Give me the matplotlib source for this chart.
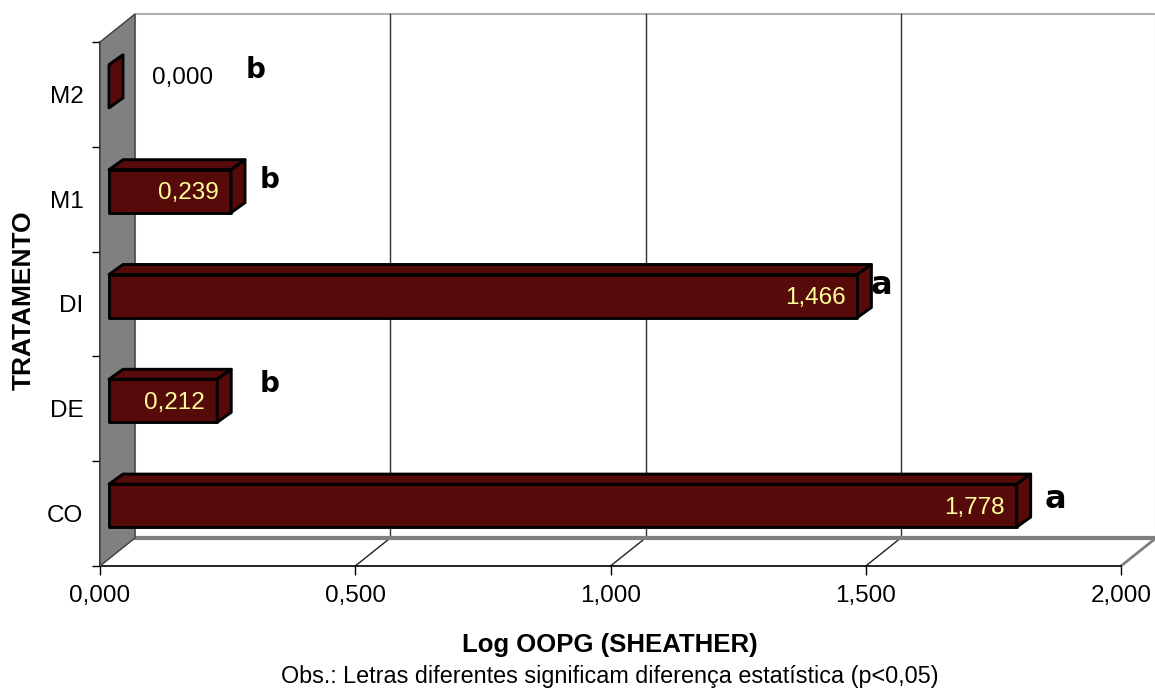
import matplotlib.pyplot as plt
from matplotlib.patches import Polygon

plt.rcParams['font.family'] = ['Liberation Sans', 'DejaVu Sans']

# dados
tratamentos = ['CO', 'DE', 'DI', 'M1', 'M2']
valores = [1.778, 0.212, 1.466, 0.239, 0.000]
letras = ['a', 'b', 'a', 'b', 'b']
# posicao das letras (x em Log OOPG, deslocamento y em relacao a categoria)
letras_x = [1.871, 0.333, 1.530, 0.333, 0.305]
letras_dy = [0.13, 0.24, 0.18, 0.18, 0.23]
xticks = [0.0, 0.5, 1.0, 1.5, 2.0]

cor_barra = '#560A0A'
cinza = '#808080'

# profundidade "3D" em unidades dos eixos
px_x = 1 / 510.5
px_y = 1 / 104.8
DX, DY = 35 * px_x, 28 * px_y          # parede
BX, BY = 9 * px_x, 8 * px_y            # frente da barra
BDX, BDY = 14 * px_x, 10 * px_y        # profundidade da barra
ALT = 43 * px_y                        # altura da barra

fig = plt.figure(figsize=(11.55, 6.91), dpi=100)
ax = fig.add_axes([100 / 1155, (691 - 566) / 691, 1021 / 1155, 524 / 691])
ax.set_xlim(0, 2)
ax.set_ylim(-0.5, 4.5)
ax.set_facecolor('none')
for s in ['top', 'right']:
    ax.spines[s].set_visible(False)
ax.spines['left'].set_linewidth(1.2)
ax.spines['bottom'].set_linewidth(1.2)

y0, y1 = -0.5, 4.5
# parede do fundo
ax.add_patch(Polygon([(DX, y0 + DY), (2 + DX, y0 + DY), (2 + DX, y1 + DY), (DX, y1 + DY)],
                     closed=True, facecolor='white', edgecolor='#b0b0b0', lw=1.5,
                     clip_on=False, zorder=1))
for v in xticks[1:-1]:
    ax.plot([v + DX, v + DX], [y0 + DY, y1 + DY], color='#303030', lw=1, clip_on=False, zorder=2)
    ax.plot([v, v + DX], [y0, y0 + DY], color='#202020', lw=1, clip_on=False, zorder=2)
# piso
ax.plot([DX, 2 + DX], [y0 + DY, y0 + DY], color=cinza, lw=3, clip_on=False, zorder=2)
ax.plot([2, 2 + DX], [y0, y0 + DY], color=cinza, lw=2, clip_on=False, zorder=2)
# parede lateral
ax.add_patch(Polygon([(0, y0), (DX, y0 + DY), (DX, y1 + DY), (0, y1)], closed=True,
                     facecolor=cinza, edgecolor='#404040', lw=1, clip_on=False, zorder=3))

# barras
for i in range(len(tratamentos) - 1, -1, -1):
    v = valores[i]
    xa, xb = BX, v + BX
    ya, yb = i + BY - ALT / 2, i + BY + ALT / 2
    faces = [
        [(xa, ya), (xb, ya), (xb, yb), (xa, yb)],
        [(xa, yb), (xb, yb), (xb + BDX, yb + BDY), (xa + BDX, yb + BDY)],
        [(xb, ya), (xb + BDX, ya + BDY), (xb + BDX, yb + BDY), (xb, yb)],
    ]
    for f in faces:
        ax.add_patch(Polygon(f, closed=True, facecolor=cor_barra, edgecolor='black',
                             lw=2.1, joinstyle='round', clip_on=False, zorder=5))
    rot = f'{v:.3f}'.replace('.', ',')
    if v > 0.1:
        ax.text(xb - 12 * px_x, i + BY - 2 * px_y, rot, ha='right', va='center',
                color='#FFFF99', fontsize=17.5, zorder=6)
    else:
        ax.text(0.102, i + BY + 8 * px_y, rot, ha='left', va='center',
                color='black', fontsize=17.5, zorder=6)
    if letras[i] == 'a':
        ax.text(letras_x[i], i + letras_dy[i], letras[i], ha='center', va='center',
                fontsize=23, fontweight='bold', family=['DejaVu Sans'], zorder=6)
    else:
        ax.text(letras_x[i], i + letras_dy[i], letras[i], ha='center', va='center',
                fontsize=20, fontweight='heavy', family=['DejaVu Sans'], zorder=6)

# eixos
ax.set_xticks(xticks)
ax.set_xticklabels([f'{v:.3f}'.replace('.', ',') for v in xticks], fontsize=17.5)
ax.tick_params(axis='x', length=6.5, width=1, pad=7)
ax.set_yticks(range(len(tratamentos)))
ax.set_yticklabels(tratamentos, fontsize=17.5)
ax.set_yticks([k - 0.5 for k in range(len(tratamentos) + 1)], minor=True)
ax.tick_params(axis='y', which='major', length=0, pad=12)
ax.tick_params(axis='y', which='minor', length=6, width=1)

fig.text(610 / 1155, 1 - 645 / 691, 'Log OOPG (SHEATHER)', ha='center', va='center',
         fontsize=18.5, fontweight='bold')
fig.text(610 / 1155, 1 - 676 / 691,
         'Obs.: Letras diferentes significam diferença estatística (p<0,05)',
         ha='center', va='center', fontsize=16.8)
fig.text(24 / 1155, 1 - 300 / 691, 'TRATAMENTO', ha='center', va='center',
         rotation=90, fontsize=19, fontweight='bold')

fig.savefig('out.png', dpi=100)
